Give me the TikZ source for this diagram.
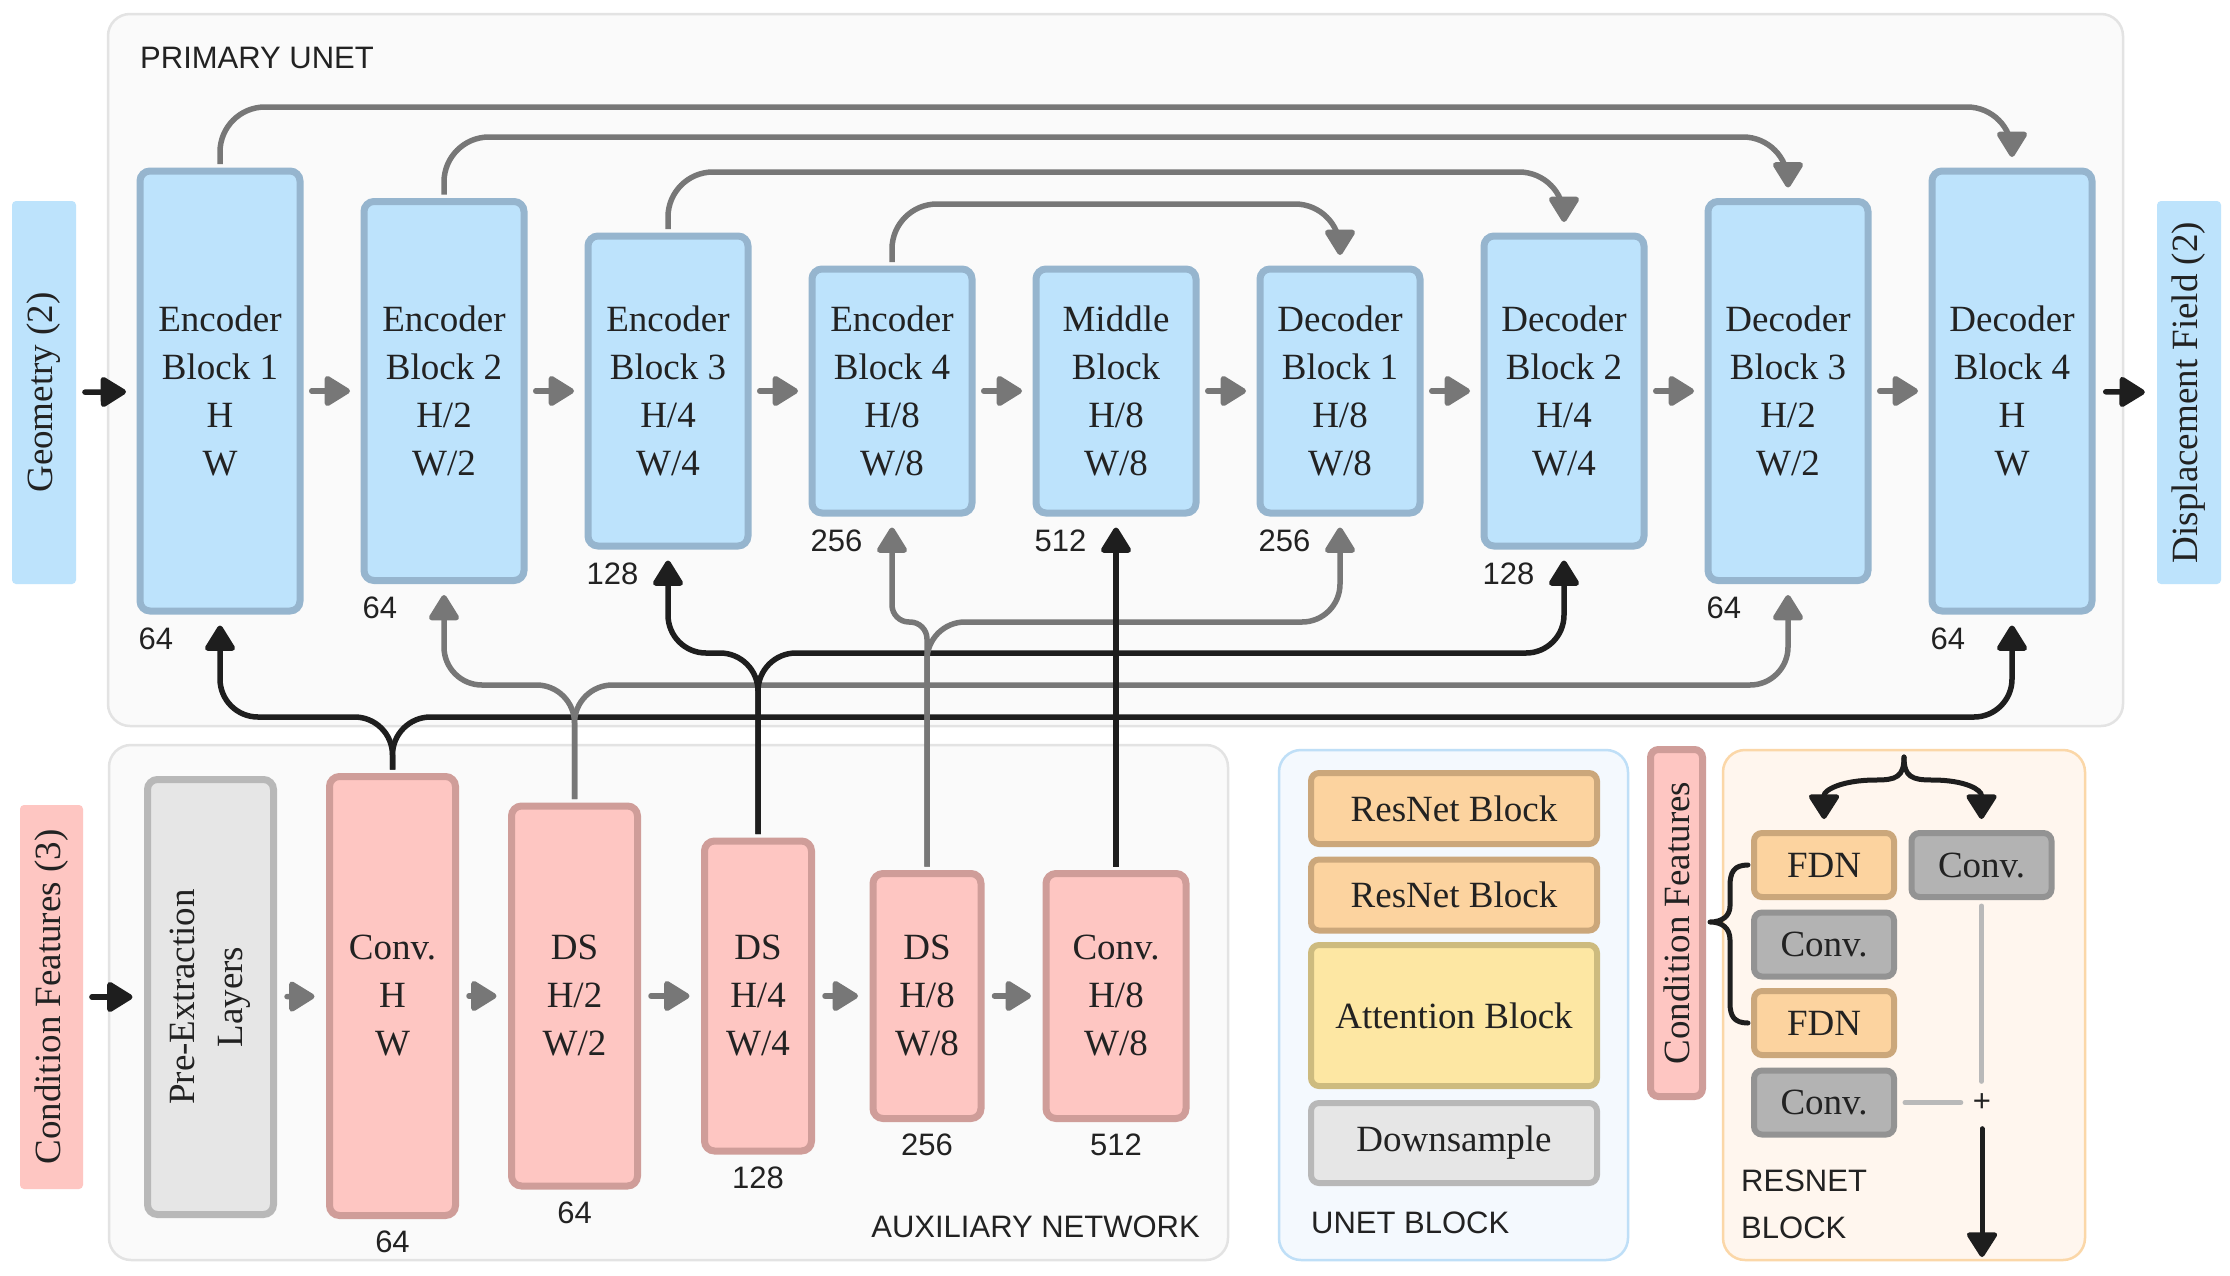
\documentclass[tikz,border=0pt]{standalone}
\usepackage{fontspec}
\setmainfont{Liberation Serif}
\setsansfont{Liberation Sans}
\usetikzlibrary{arrows.meta,calc}
\definecolor{panelfill}{HTML}{FAFAFA}
\definecolor{panelline}{HTML}{E3E3E3}
\definecolor{bluefill}{HTML}{BDE3FC}
\definecolor{blueline}{HTML}{96B5CE}
\definecolor{pinkfill}{HTML}{FEC6C2}
\definecolor{pinkline}{HTML}{CF9D99}
\definecolor{greyfill}{HTML}{E6E6E6}
\definecolor{greyline}{HTML}{B8B8B8}
\definecolor{convfill}{HTML}{B3B3B3}
\definecolor{convline}{HTML}{939393}
\definecolor{peachfill}{HTML}{FCD39F}
\definecolor{peachline}{HTML}{CBA77B}
\definecolor{yelfill}{HTML}{FDE7A3}
\definecolor{yelline}{HTML}{CDBB7F}
\definecolor{ubfill}{HTML}{F4F9FE}
\definecolor{ubline}{HTML}{BFDFF7}
\definecolor{rbfill}{HTML}{FFF6EE}
\definecolor{rbline}{HTML}{FBD7A8}
\definecolor{arrgrey}{HTML}{777777}
\definecolor{arrblack}{HTML}{1E1E1E}
\definecolor{txt}{HTML}{222222}
\definecolor{lightln}{HTML}{B9B9B9}
\newcommand\blocksize{\fontsize{37}{48}\selectfont}
\newcommand\labsize{\sffamily\fontsize{31}{47}\selectfont}
\begin{document}
\begin{tikzpicture}[x=1pt,y=-1pt,
  panel/.style={draw=panelline,fill=panelfill,line width=2.5pt,rounded corners=22pt},
  blk/.style={draw=blueline,fill=bluefill,line width=7pt,rounded corners=10pt,inner sep=0pt,align=center,font=\blocksize,text=txt,minimum width=160pt},
  aux/.style={blk,draw=pinkline,fill=pinkfill},
  sidel/.style={rotate=90,inner sep=0pt,rounded corners=4pt,font=\blocksize,text=txt},
  smallbox/.style={line width=6pt,rounded corners=8pt,inner sep=0pt,align=center,font=\blocksize,text=txt},
  lab/.style={font=\labsize,text=txt,inner sep=0pt},
  garr/.style={draw=arrgrey,line width=5.5pt,-{Triangle[length=28pt,width=33pt,round]}},
  barr/.style={draw=arrblack,line width=5.5pt,-{Triangle[length=28pt,width=33pt,round]}},
  barr2/.style={draw=arrblack,line width=5pt,line cap=round,-{Triangle[length=27pt,width=33pt,round]}},
  lgl/.style={draw=lightln,line width=5pt,line cap=round},
  brace/.style={draw=arrblack,line width=5pt,line cap=round,line join=round}
]
\useasboundingbox (0,0) rectangle (2230,1275);
\fill[white] (0,0) rectangle (2230,1275);

% panels
\draw[panel] (108,14) rectangle (2123,726);
\draw[panel] (109,745) rectangle (1228,1260);
\draw[panel,draw=ubline,fill=ubfill] (1279,750) rectangle (1628,1260);
\draw[panel,draw=rbline,fill=rbfill] (1723,750) rectangle (2085,1260);

% side labels
\node[sidel,fill=bluefill,minimum width=383pt,minimum height=64pt] (geo) at (44,392.5) {Geometry (2)};
\node[sidel,fill=bluefill,minimum width=383pt,minimum height=64pt] (disp) at (2189,392.5) {Displacement Field (2)};
\node[sidel,fill=pinkfill,minimum width=384pt,minimum height=63pt] (cf) at (51.5,997) {Condition Features (3)};

% main row
\node[blk,minimum height=440pt] (e1) at (220,391) {Encoder\\Block 1\\H\\W};
\node[blk,minimum height=379pt] (e2) at (444,391) {Encoder\\Block 2\\H/2\\W/2};
\node[blk,minimum height=310pt] (e3) at (668,391) {Encoder\\Block 3\\H/4\\W/4};
\node[blk,minimum height=244pt] (e4) at (892,391) {Encoder\\Block 4\\H/8\\W/8};
\node[blk,minimum height=244pt] (mid) at (1116,391) {Middle\\Block\\H/8\\W/8};
\node[blk,minimum height=244pt] (d1) at (1340,391) {Decoder\\Block 1\\H/8\\W/8};
\node[blk,minimum height=310pt] (d2) at (1564,391) {Decoder\\Block 2\\H/4\\W/4};
\node[blk,minimum height=379pt] (d3) at (1788,391) {Decoder\\Block 3\\H/2\\W/2};
\node[blk,minimum height=440pt] (d4) at (2012,391) {Decoder\\Block 4\\H\\W};

\node[lab,anchor=west] (le1) at ($(e1.south west)+(2,24)$) {64};
\node[lab,anchor=west] (le2) at ($(e2.south west)+(2,24)$) {64};
\node[lab,anchor=west] (le3) at ($(e3.south west)+(2,24)$) {128};
\node[lab,anchor=west] (le4) at ($(e4.south west)+(2,24)$) {256};
\node[lab,anchor=west] (lmid) at ($(mid.south west)+(2,24)$) {512};
\node[lab,anchor=west] (ld1) at ($(d1.south west)+(2,24)$) {256};
\node[lab,anchor=west] (ld2) at ($(d2.south west)+(2,24)$) {128};
\node[lab,anchor=west] (ld3) at ($(d3.south west)+(2,24)$) {64};
\node[lab,anchor=west] (ld4) at ($(d4.south west)+(2,24)$) {64};

% auxiliary row
\node[blk,draw=greyline,fill=greyfill,rotate=90,minimum width=435pt,minimum height=126pt] (pre) at (210.5,997) {Pre-Extraction\\Layers};
\node[aux,minimum width=126pt,minimum height=439pt] (a1) at (392.5,996) {Conv.\\H\\W};
\node[aux,minimum width=126pt,minimum height=380pt] (a2) at (574.5,996) {DS\\H/2\\W/2};
\node[aux,minimum width=107pt,minimum height=310pt] (a3) at (758,996) {DS\\H/4\\W/4};
\node[aux,minimum width=108pt,minimum height=245pt] (a4) at (927,996) {DS\\H/8\\W/8};
\node[aux,minimum width=140pt,minimum height=245pt] (a5) at (1116,996) {Conv.\\H/8\\W/8};

\node[lab] (la1) at ($(a1.south)+(0,23)$) {64};
\node[lab] (la2) at ($(a2.south)+(0,23)$) {64};
\node[lab] (la3) at ($(a3.south)+(0,23)$) {128};
\node[lab] (la4) at ($(a4.south)+(0,23)$) {256};
\node[lab] (la5) at ($(a5.south)+(0,23)$) {512};

% panel titles
\node[lab,anchor=west] (tpu) at (140,58) {PRIMARY UNET};
\node[lab,anchor=east] (tan) at (1200,1227) {AUXILIARY NETWORK};
\node[lab,anchor=west] (tub) at (1311,1223) {UNET BLOCK};
\node[lab,anchor=west,align=left] (trb) at (1741,1204) {RESNET\\BLOCK};

% unet block contents
\node[smallbox,draw=peachline,fill=peachfill,minimum width=286pt,minimum height=71pt] (rb1) at (1454,808.5) {ResNet Block};
\node[smallbox,draw=peachline,fill=peachfill,minimum width=286pt,minimum height=71pt] (rb2) at (1454,895) {ResNet Block};
\node[smallbox,draw=yelline,fill=yelfill,minimum width=286pt,minimum height=141pt] (att) at (1454,1015.5) {Attention Block};
\node[smallbox,draw=greyline,fill=greyfill,minimum width=286pt,minimum height=80pt] (dwn) at (1454,1143) {Downsample};

\node[smallbox,draw=pinkline,fill=pinkfill,rotate=90,line width=7pt,minimum width=347pt,minimum height=52pt] (cf2) at (1676.5,923) {Condition Features};

% resnet block contents
\node[smallbox,draw=peachline,fill=peachfill,minimum width=140pt,minimum height=64pt] (f1) at (1824,865) {FDN};
\node[smallbox,draw=convline,fill=convfill,minimum width=140pt,minimum height=64pt] (cr) at (1981.5,865) {Conv.};
\node[smallbox,draw=convline,fill=convfill,minimum width=140pt,minimum height=64pt] (c2) at (1824,944.5) {Conv.};
\node[smallbox,draw=peachline,fill=peachfill,minimum width=140pt,minimum height=64pt] (f2) at (1824,1023) {FDN};
\node[smallbox,draw=convline,fill=convfill,minimum width=140pt,minimum height=64pt] (c4) at (1824,1102.5) {Conv.};
\node[lab,minimum size=42pt] (plus) at (1982,1102.5) {+};
\coordinate (rbout) at (1982,1257);
\coordinate (brt) at (1904,757);

% horizontal arrows main row
\draw[barr,line cap=round,shorten <=8.75pt,shorten >=10.5pt] (geo) -- (e1);
\foreach \a/\b in {e1/e2,e2/e3,e3/e4,e4/mid,mid/d1,d1/d2,d2/d3,d3/d4}
  \draw[garr,line cap=round,shorten <=8.25pt,shorten >=10.5pt] (\a) -- (\b);
\draw[barr,line cap=round,shorten <=10.25pt,shorten >=12pt] (d4) -- (disp);

% horizontal arrows aux row
\draw[barr,line cap=round,shorten <=8.75pt,shorten >=11.5pt] (cf) -- (pre);
\foreach \a/\b in {pre/a1,a1/a2,a2/a3,a3/a4,a4/a5}
  \draw[garr,line cap=round,shorten <=10pt,shorten >=11.5pt] (\a) -- (\b);

% skip connections
\coordinate (s1) at (0,107);
\coordinate (s2) at (0,137);
\coordinate (s3) at (0,172);
\coordinate (s4) at (0,204);
\draw[garr,rounded corners=45pt,shorten <=3.5pt,shorten >=10.5pt] (e1.north) -- (e1.north |- s1) -| (d4.north);
\draw[garr,rounded corners=45pt,shorten <=3.5pt,shorten >=10.5pt] (e2.north) -- (e2.north |- s2) -| (d3.north);
\draw[garr,rounded corners=45pt,shorten <=3.5pt,shorten >=10.5pt] (e3.north) -- (e3.north |- s3) -| (d2.north);
\draw[garr,rounded corners=45pt,shorten <=3.5pt,shorten >=10.5pt] (e4.north) -- (e4.north |- s4) -| (d1.north);

% condition buses
\coordinate (busA) at (0,717);
\coordinate (busB) at (0,685);
\coordinate (busC) at (0,653);
\coordinate (busD) at (0,622);
\draw[barr,rounded corners=38pt,shorten <=3.5pt,shorten >=11pt] (a1.north) -- (a1.north |- busA) -| (e1.south);
\draw[barr,rounded corners=38pt,shorten <=3.5pt,shorten >=11pt] (a1.north) -- (a1.north |- busA) -| (d4.south);
\draw[garr,rounded corners=38pt,shorten <=3.5pt,shorten >=11pt] (a2.north) -- (a2.north |- busB) -| (e2.south);
\draw[garr,rounded corners=38pt,shorten <=3.5pt,shorten >=11pt] (a2.north) -- (a2.north |- busB) -| (d3.south);
\draw[barr,rounded corners=38pt,shorten <=3.5pt,shorten >=11pt] (a3.north) -- (a3.north |- busC) -| (e3.south);
\draw[barr,rounded corners=38pt,shorten <=3.5pt,shorten >=11pt] (a3.north) -- (a3.north |- busC) -| (d2.south);
\draw[garr,rounded corners=17pt,shorten <=3.5pt,shorten >=11pt] (a4.north) -- (a4.north |- busD) -| (e4.south);
\draw[garr,rounded corners=38pt,shorten <=3.5pt,shorten >=11pt] (a4.north) -- (a4.north |- busD) -| (d1.south);
\draw[barr,shorten <=3.5pt,shorten >=11pt] (a5.north) -- (mid.south);

% resnet block connectors
\draw[barr2,shorten >=11pt] (brt) .. controls (1904,777) and (1896,780) .. (1876,780) .. controls (1842,780) and (1824,790) .. (f1.north);
\draw[barr2,shorten >=11pt] (brt) .. controls (1904,777) and (1912,780) .. (1932,780) .. controls (1966,780) and (1981.5,790) .. (cr.north);
\draw[brace] (1748,865) .. controls (1734,865) and (1730,872) .. (1730,886) -- (1730,906) .. controls (1730,916) and (1722,922) .. (1710,922) .. controls (1722,922) and (1730,928) .. (1730,940) -- (1730,1003) .. controls (1730,1016) and (1734,1023) .. (1748,1023);
\draw[lgl,shorten <=6pt] (cr.south) -- (cr.south |- plus.north);
\draw[lgl,shorten <=8pt] (c4.east) -- (plus.west);
\draw[barr2,shorten <=5pt] (plus.south) -- (rbout);
\end{tikzpicture}
\end{document}
